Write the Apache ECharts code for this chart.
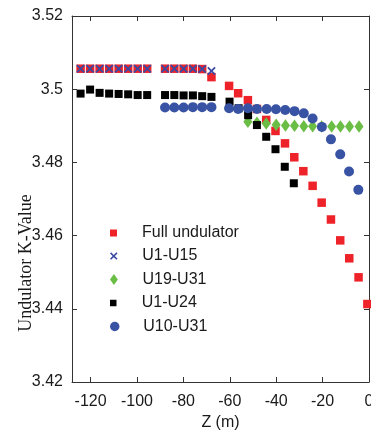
<!DOCTYPE html>
<html>
<head>
<meta charset="utf-8">
<script src="https://cdn.jsdelivr.net/npm/echarts@6/dist/echarts.min.js"></script>
<style>
  html, body { margin: 0; padding: 0; background: #fff; }
  #chart { width: 371px; height: 436px; }
</style>
</head>
<body>
<div id="chart"></div>
<script>
// Tick labels
const zTicks = [-120, -100, -80, -60, -40, -20, 0];
const kTicks = [3.42, 3.44, 3.46, 3.48, 3.5, 3.52];

// Full undulator
const fullZ = [-124.3, -120.2, -116.1, -112.0, -107.9, -103.8, -99.7, -95.6,
  -87.9, -83.9, -79.9, -75.9, -71.9, -67.9,
  -60.3, -56.4, -52.2, -48.3, -44.3, -40.3, -36.2, -32.2, -28.3, -24.3, -20.4, -16.4, -12.4, -8.5, -4.5, -0.7];
const fullK = [3.5056, 3.5056, 3.5056, 3.5056, 3.5056, 3.5056, 3.5056, 3.5056,
  3.5056, 3.5056, 3.5056, 3.5056, 3.5055, 3.5033,
  3.5009, 3.4989, 3.4970, 3.4946, 3.4916, 3.4886, 3.4852, 3.4814, 3.4776, 3.4736, 3.4690, 3.4644, 3.4587, 3.4538, 3.4486, 3.4413];

// U1-U15
const u1u15Z = [-124.3, -120.2, -116.1, -112.0, -107.9, -103.8, -99.7, -95.6,
  -87.9, -83.9, -79.9, -75.9, -71.9, -67.9];
const u1u15K = [3.5056, 3.5056, 3.5056, 3.5056, 3.5056, 3.5056, 3.5056, 3.5056,
  3.5056, 3.5056, 3.5056, 3.5056, 3.5055, 3.5050];

// U19-U31
const u19u31Z = [-52.2, -48.3, -44.3, -40.0, -36.0, -32.1, -28.1, -24.3, -20.4, -16.1, -12.3, -8.4, -4.3];
const u19u31K = [3.4911, 3.4908, 3.4906, 3.4903, 3.4901, 3.4900, 3.4899, 3.4899, 3.4898, 3.4898, 3.4898, 3.4898, 3.4898];

// U1-U24
const u1u24Z = [-124.3, -120.2, -116.1, -112.0, -107.9, -103.8, -99.7, -95.6,
  -87.9, -83.9, -79.9, -75.9, -71.9, -67.9,
  -60.1, -56.2, -52.1, -48.3, -44.3, -40.3, -36.3, -32.4];
const u1u24K = [3.4988, 3.4999, 3.4990, 3.4988, 3.4987, 3.4986, 3.4984, 3.4984,
  3.4984, 3.4984, 3.4983, 3.4983, 3.4981, 3.4979,
  3.4966, 3.4948, 3.4929, 3.4902, 3.4870, 3.4836, 3.4788, 3.4743];

// U10-U31
const u10u31Z = [-87.9, -83.9, -79.9, -75.9, -71.9, -67.9,
  -60.3, -56.4, -52.2, -48.3, -44.1, -40.1, -36.1, -32.1, -28.1, -24.3, -20.3, -16.4, -12.4, -8.6, -4.6];
const u10u31K = [3.4950, 3.4950, 3.4950, 3.4951, 3.4951, 3.4951,
  3.4948, 3.4946, 3.4948, 3.4946, 3.4946, 3.4945, 3.4943, 3.4940, 3.4934, 3.4920, 3.4897, 3.4863, 3.4822, 3.4775, 3.4725];

const SQUARE = 'path://M0,0H10V10H0Z';
const CROSS = 'path://M0,1.5L1.5,0L5,3.5L8.5,0L10,1.5L6.5,5L10,8.5L8.5,10L5,6.5L1.5,10L0,8.5L3.5,5Z';
const DIAMOND = 'path://M5,0L10,7L5,14L0,7Z';

const AXIS_COLOR = '#333';
const FONT = 'Liberation Sans, Arial, sans-serif';

const zip = (xs, ys) => xs.map((x, i) => [x, ys[i]]);

const makeLegend = (name, icon, h, cy) => ({
  data: [{ name, icon }],
  orient: 'vertical',
  left: 110,
  top: cy - 8,
  padding: 0,
  itemWidth: 47,
  itemHeight: h,
  selectedMode: false,
  textStyle: { fontSize: 16, lineHeight: 16, color: '#1a1a1a', fontFamily: FONT },
});

const edgeAxis = {
  axisLine: { show: true, onZero: false, lineStyle: { color: AXIS_COLOR, width: 1 } },
  axisLabel: { show: false },
  splitLine: { show: false },
};

const option = {
  animation: false,
  backgroundColor: '#fff',
  grid: { left: 72, right: 2, top: 16, bottom: 54, containLabel: false, outerBoundsMode: 'none' },
  legend: [
    makeLegend('Full undulator', SQUARE, 7, 233),
    makeLegend('U1-U15', CROSS, 7.5, 256),
    makeLegend('U19-U31', DIAMOND, 11, 279.5),
    makeLegend('U1-U24', SQUARE, 6.5, 303),
    makeLegend('U10-U31', 'circle', 9.5, 326.5),
  ],
  xAxis: [
    {
      type: 'value',
      min: -128,
      max: 0,
      position: 'bottom',
      name: 'Z (m)',
      nameLocation: 'middle',
      nameGap: 30,
      nameTextStyle: { fontSize: 16, color: '#1a1a1a', fontFamily: FONT },
      axisLine: { show: true, onZero: false, lineStyle: { color: AXIS_COLOR, width: 1 } },
      axisTick: { show: true, inside: true, length: 5, customValues: zTicks, lineStyle: { color: AXIS_COLOR } },
      axisLabel: { customValues: zTicks, margin: 12, fontSize: 16, color: '#1a1a1a', fontFamily: FONT },
      splitLine: { show: false },
    },
    {
      ...edgeAxis,
      type: 'value',
      min: -128,
      max: 0,
      position: 'top',
      axisTick: { show: true, inside: true, length: 5, customValues: zTicks, lineStyle: { color: AXIS_COLOR } },
    },
  ],
  yAxis: [
    {
      type: 'value',
      min: 3.42,
      max: 3.52,
      position: 'left',
      axisLine: { show: true, onZero: false, lineStyle: { color: AXIS_COLOR, width: 1 } },
      axisTick: { show: true, inside: true, length: 5, customValues: kTicks, lineStyle: { color: AXIS_COLOR } },
      axisLabel: { customValues: kTicks, margin: 9, fontSize: 16, color: '#1a1a1a', fontFamily: FONT },
      splitLine: { show: false },
    },
    {
      ...edgeAxis,
      type: 'value',
      min: 3.42,
      max: 3.52,
      position: 'right',
      axisTick: { show: true, inside: true, length: 5, customValues: kTicks, lineStyle: { color: AXIS_COLOR } },
    },
  ],
  graphic: [
    {
      type: 'text',
      x: 26,
      y: 263,
      rotation: Math.PI / 2,
      style: {
        text: 'Undulator K-Value',
        fontSize: 18,
        fontFamily: 'Liberation Serif, Times New Roman, serif',
        fill: '#1a1a1a',
        align: 'center',
        verticalAlign: 'middle',
      },
    },
  ],
  series: [
    {
      name: 'Full undulator',
      type: 'scatter',
      symbol: SQUARE,
      symbolSize: 8.5,
      itemStyle: { color: '#ee2229', opacity: 1 },
      data: zip(fullZ, fullK),
    },
    {
      name: 'U1-U15',
      type: 'scatter',
      symbol: CROSS,
      symbolSize: 8.5,
      itemStyle: { color: '#3a4aa3', opacity: 1 },
      data: zip(u1u15Z, u1u15K),
    },
    {
      name: 'U19-U31',
      type: 'scatter',
      symbol: DIAMOND,
      symbolSize: [9, 12.5],
      itemStyle: { color: '#6abd45', opacity: 1 },
      data: zip(u19u31Z, u19u31K),
    },
    {
      name: 'U1-U24',
      type: 'scatter',
      symbol: SQUARE,
      symbolSize: 8,
      itemStyle: { color: '#000', opacity: 1 },
      data: zip(u1u24Z, u1u24K),
    },
    {
      name: 'U10-U31',
      type: 'scatter',
      symbol: 'circle',
      symbolSize: 10,
      itemStyle: { color: '#3953a4', opacity: 1 },
      data: zip(u10u31Z, u10u31K),
    },
  ],
};

const chart = echarts.init(document.getElementById('chart'));
chart.setOption(option);
window.addEventListener('resize', () => chart.resize());
</script>
</body>
</html>
